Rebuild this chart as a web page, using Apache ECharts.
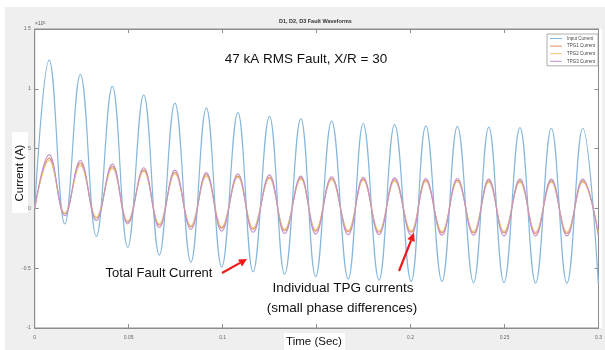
<!DOCTYPE html>
<html>
<head>
<meta charset="utf-8">
<script src="https://cdn.jsdelivr.net/npm/echarts@6/dist/echarts.min.js"></script>
<style>
  html,body{margin:0;padding:0;background:#fff;}
  #chart{width:605px;height:350px;}
</style>
</head>
<body>
<div id="chart"></div>
<script>
// Values in units of 10^5 A (each half-cycle extreme)
const peakTimes   = [0.0077,0.0243,0.0413,0.0580,0.0746,0.0913,0.1081,0.1249,0.1416,0.1580,0.1748,0.1915,0.2081,0.2249,0.2416,0.2582,0.2749,0.2916];
const troughTimes = [0.0160,0.0328,0.0495,0.0663,0.0831,0.0995,0.1162,0.1330,0.1495,0.1668,0.1832,0.2003,0.2167,0.2335,0.2497,0.2665,0.2832,0.2999];

const inputPeaks   = [1.24,1.12,1.02,0.95,0.88,0.84,0.80,0.77,0.75,0.73,0.71,0.70,0.69,0.685,0.68,0.675,0.67,0.67];
const inputTroughs = [-0.13,-0.235,-0.325,-0.39,-0.45,-0.49,-0.53,-0.55,-0.57,-0.59,-0.60,-0.61,-0.61,-0.62,-0.62,-0.625,-0.625,-0.63];

const tpg1Peaks   = [0.42,0.38,0.35,0.32,0.30,0.285,0.27,0.26,0.255,0.25,0.245,0.24,0.235,0.235,0.23,0.23,0.23,0.23];
const tpg1Troughs = [-0.045,-0.08,-0.115,-0.14,-0.155,-0.165,-0.175,-0.185,-0.19,-0.195,-0.2,-0.2,-0.205,-0.205,-0.205,-0.21,-0.21,-0.21];

const tpg2Peaks   = [0.40,0.36,0.335,0.31,0.29,0.27,0.26,0.25,0.245,0.24,0.235,0.23,0.225,0.225,0.22,0.22,0.22,0.22];
const tpg2Troughs = [-0.04,-0.075,-0.105,-0.13,-0.145,-0.155,-0.165,-0.175,-0.18,-0.185,-0.19,-0.19,-0.195,-0.195,-0.195,-0.2,-0.2,-0.2];

const tpg3Peaks   = [0.45,0.40,0.37,0.34,0.32,0.30,0.29,0.28,0.27,0.265,0.26,0.255,0.25,0.25,0.245,0.245,0.245,0.245];
const tpg3Troughs = [-0.06,-0.10,-0.13,-0.16,-0.175,-0.19,-0.20,-0.21,-0.215,-0.22,-0.22,-0.225,-0.225,-0.225,-0.23,-0.23,-0.23,-0.23];

const seriesNames = ['Input Current','TPG1 Current','TPG2 Current','TPG3 Current'];
const xTicks = ['0','0.05','0.1','0.15','0.2','0.25','0.3'];
const yTicks = {'-1':'-1','-0.5':'-0.5','0':'0','0.5':'0.5','1':'1','1.5':'1.5'};

function wave(peaks, troughs){
  const d = [[0,0]];
  for (let i=0;i<peaks.length;i++){
    d.push([peakTimes[i], peaks[i]]);
    d.push([troughTimes[i], troughs[i]]);
  }
  return d;
}

const colors = ['#84b7dc','#e38a63','#eec17b','#bd93cc'];
const waves = [
  wave(inputPeaks, inputTroughs),
  wave(tpg1Peaks, tpg1Troughs),
  wave(tpg2Peaks, tpg2Troughs),
  wave(tpg3Peaks, tpg3Troughs)
];

const axisGrey = '#8c8c8c';
const labelGrey = '#666';

function arrow(x1,y1,x2,y2){
  const ang = Math.atan2(y2-y1, x2-x1);
  const L = 8, W = 4;
  const bx = x2 - L*Math.cos(ang), by = y2 - L*Math.sin(ang);
  const px = -Math.sin(ang)*W, py = Math.cos(ang)*W;
  return [
    {type:'line', shape:{x1:x1,y1:y1,x2:bx,y2:by}, style:{stroke:'#f01a1a', lineWidth:2.2}, z:20},
    {type:'polygon', shape:{points:[[x2,y2],[bx+px,by+py],[bx-px,by-py]]}, style:{fill:'#f01a1a'}, z:20}
  ];
}

const chart = echarts.init(document.getElementById('chart'), null, {renderer:'canvas'});
chart.setOption({
  backgroundColor:'#ffffff',
  animation:false,
  color: colors,
  grid:{left:34.7, right:3, top:29, bottom:22, show:true, backgroundColor:'#ffffff', borderColor:axisGrey, borderWidth:1},
  legend:{
    data: seriesNames,
    orient:'vertical', left:547, top:34,
    itemWidth:12, itemHeight:1, itemGap:2.6, icon:'rect',
    textStyle:{fontSize:4.5, color:'#444', fontFamily:'Liberation Sans'},
    backgroundColor:'#fff', borderColor:'#999', borderWidth:0.8, padding:[2,3,2,3]
  },
  xAxis:[{
    type:'value', min:0, max:0.3, interval:0.05,
    axisLine:{show:true, onZero:false, lineStyle:{color:axisGrey}},
    axisTick:{show:true, inside:true, length:4, lineStyle:{color:axisGrey}},
    axisLabel:{fontSize:5, color:labelGrey, margin:7, fontFamily:'Liberation Sans',
      formatter:(v)=>xTicks[Math.round(v/0.05)]},
    splitLine:{show:false}
  },{
    type:'value', position:'top', min:0, max:0.3, interval:0.05,
    axisLine:{show:true, onZero:false, lineStyle:{color:axisGrey}},
    axisTick:{show:true, inside:true, length:4, lineStyle:{color:axisGrey}},
    axisLabel:{show:false}, splitLine:{show:false}
  }],
  yAxis:[{
    type:'value', min:-1, max:1.5, interval:0.5,
    axisLine:{show:true, onZero:false, lineStyle:{color:axisGrey}},
    axisTick:{show:true, inside:true, length:4, lineStyle:{color:axisGrey}},
    axisLabel:{fontSize:5, color:labelGrey, margin:4, fontFamily:'Liberation Sans',
      formatter:(v)=>yTicks[String(Math.round(v*2)/2)]},
    splitLine:{show:false}
  },{
    type:'value', position:'right', min:-1, max:1.5, interval:0.5,
    axisLine:{show:true, onZero:false, lineStyle:{color:axisGrey}},
    axisTick:{show:true, inside:true, length:4, lineStyle:{color:axisGrey}},
    axisLabel:{show:false}, splitLine:{show:false}
  }],
  series: seriesNames.map((n,i)=>({
    name:n, type:'line', data:waves[i], showSymbol:false, symbol:'none',
    smooth:0.42, lineStyle:{width: i===0?1.2:1.1, color:colors[i]},
    xAxisIndex:0, yAxisIndex:0, z:2+i
  })),
  graphic:[
    {type:'rect', shape:{x:5,y:7,width:600,height:22}, style:{fill:'#efefef'}, z:-10, silent:true},
    {type:'rect', shape:{x:5,y:7,width:29.7,height:343}, style:{fill:'#efefef'}, z:-10, silent:true},
    {type:'rect', shape:{x:5,y:328,width:600,height:22}, style:{fill:'#efefef'}, z:-10, silent:true},
    {type:'rect', shape:{x:602,y:7,width:3,height:343}, style:{fill:'#efefef'}, z:-10, silent:true},
    {type:'text', left:279, top:18, style:{text:'D1, D2, D3 Fault Waveforms', fontSize:5.5, fontWeight:'bold', fill:'#333', fontFamily:'Liberation Sans'}, z:30},
    {type:'text', left:35, top:21, style:{text:'×10{s|5}', rich:{s:{fontSize:3.5, verticalAlign:'top', fill:'#555'}}, fontSize:5, fill:'#555', fontFamily:'Liberation Sans'}, z:30},
    {type:'text', x:306, y:59, style:{text:'47 kA RMS Fault, X/R = 30', fontSize:13.5, fill:'#111', fontFamily:'Liberation Sans', align:'center', verticalAlign:'middle'}, z:30},
    {type:'text', x:159, y:273, style:{text:'Total Fault Current', fontSize:13, fill:'#111', fontFamily:'Liberation Sans', align:'center', verticalAlign:'middle'}, z:30},
    {type:'text', x:343, y:288, style:{text:'Individual TPG currents', fontSize:13.5, fill:'#111', fontFamily:'Liberation Sans', align:'center', verticalAlign:'middle'}, z:30},
    {type:'text', x:342, y:308, style:{text:'(small phase differences)', fontSize:13.5, fill:'#111', fontFamily:'Liberation Sans', align:'center', verticalAlign:'middle'}, z:30},
    {type:'rect', shape:{x:284,y:333,width:61,height:17}, style:{fill:'#ffffff'}, z:25},
    {type:'text', x:314, y:342, style:{text:'Time (Sec)', fontSize:11.5, fill:'#111', fontFamily:'Liberation Sans', align:'center', verticalAlign:'middle'}, z:30},
    {type:'rect', shape:{x:12,y:132,width:16,height:81}, style:{fill:'#ffffff'}, z:25},
    {type:'text', x:20, y:173, rotation:Math.PI/2, style:{text:'Current (A)', fontSize:11.5, fill:'#111', fontFamily:'Liberation Sans', align:'center', verticalAlign:'middle'}, z:30},
    ...arrow(222,273,247,259),
    ...arrow(399,271,414,233)
  ]
});
</script>
</body>
</html>
